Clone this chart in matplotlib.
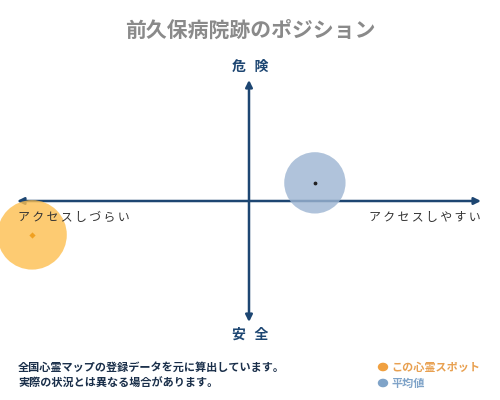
import matplotlib
matplotlib.use("Agg")
import matplotlib.pyplot as plt

plt.rcParams['font.family'] = ['Noto Sans CJK JP', 'DejaVu Sans']

title = "前久保病院跡のポジション"
y_top_label = "危 険"
y_bottom_label = "安 全"
x_left_label = "アクセスしづらい"
x_right_label = "アクセスしやすい"
notes = ["全国心霊マップの登録データを元に算出しています。", "実際の状況とは異なる場合があります。"]
legend_labels = ["この心霊スポット", "平均値"]

spot_xy = (-0.935, -0.28)
avg_xy = (0.284, 0.15)
spot_size = 2500
avg_size = 1950

navy = "#1d4672"
orange = "#fdbf4f"
blue = "#9db5d2"

def spaced(s):
    return "\u2009".join(s)

fig = plt.figure(figsize=(5, 4), dpi=100)
ax = fig.add_axes([17/500, (400-322)/400, 464/500, 242/400])
ax.set_xlim(-1, 1)
ax.set_ylim(-1, 1)
ax.axis("off")

# axes arrows
ax.annotate("", xy=(1, 0), xytext=(-1, 0), xycoords="data",
            arrowprops=dict(arrowstyle="<|-|>", color=navy, lw=1.8, mutation_scale=10, shrinkA=0, shrinkB=0))
ax.annotate("", xy=(0, 1), xytext=(0, -1), xycoords="data",
            arrowprops=dict(arrowstyle="<|-|>", color=navy, lw=1.8, mutation_scale=10, shrinkA=0, shrinkB=0))

ax.scatter([avg_xy[0]], [avg_xy[1]], s=avg_size, color=blue, alpha=0.8, edgecolors="none", zorder=3, clip_on=False)
ax.scatter([avg_xy[0]], [avg_xy[1]], s=3, color="#222222", zorder=4, clip_on=False)
ax.scatter([spot_xy[0]], [spot_xy[1]], s=spot_size, color=orange, alpha=0.8, edgecolors="none", zorder=3, clip_on=False)
ax.scatter([spot_xy[0]], [spot_xy[1]], s=10, marker="D", color="#f0a020", zorder=4, linewidths=0, clip_on=False)

fig.text(0.5, 1 - 30/400, title, ha="center", va="center", fontsize=15, color="#8a8a8a", fontweight="bold")
fig.text(0.5, 1 - 67/400, spaced(y_top_label), ha="center", va="center", fontsize=10, color=navy, fontweight="bold")
fig.text(0.5, 1 - 335/400, spaced(y_bottom_label), ha="center", va="center", fontsize=10, color=navy, fontweight="bold")
fig.text(18/500, 1 - 217/400, spaced(x_left_label), ha="left", va="center", fontsize=8.6, color="#333333")
fig.text(481/500, 1 - 217/400, spaced(x_right_label), ha="right", va="center", fontsize=8.6, color="#333333")

fig.text(18/500, 1 - 367/400, notes[0], ha="left", va="center", fontsize=8, color="#1a2f4a", fontweight="bold")
fig.text(18/500, 1 - 383/400, notes[1], ha="left", va="center", fontsize=8, color="#1a2f4a", fontweight="bold")

fig.patches.append(plt.Circle((383/500, 1 - 367/400), 0.009, transform=fig.transFigure, color="#f0a040", figure=fig))
fig.patches.append(plt.Circle((383/500, 1 - 383/400), 0.009, transform=fig.transFigure, color="#7fa3c8", figure=fig))
fig.text(391/500, 1 - 367/400, legend_labels[0], ha="left", va="center", fontsize=8, color="#e8a050", fontweight="bold")
fig.text(391/500, 1 - 383/400, legend_labels[1], ha="left", va="center", fontsize=8, color="#7fa3c8", fontweight="bold")

fig.savefig("out.png", dpi=100)
